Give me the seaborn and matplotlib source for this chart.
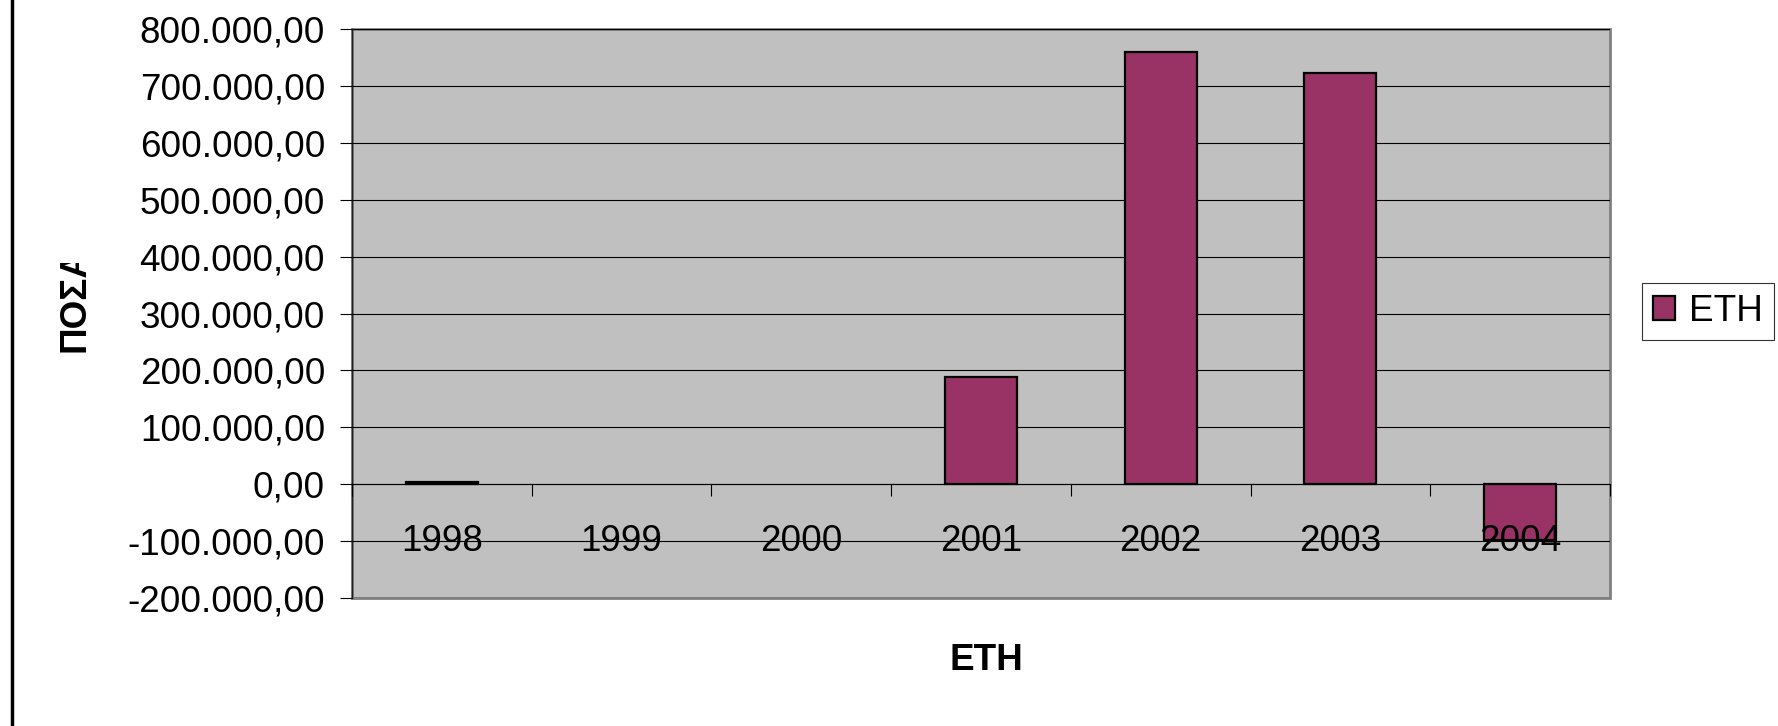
import numpy as np
import pandas as pd
import seaborn as sns
import matplotlib.pyplot as plt
from matplotlib.ticker import FuncFormatter, FixedLocator
from matplotlib.transforms import Bbox, TransformedBbox
from matplotlib.lines import Line2D

# values (1999 and 2000 have no bar)
years = ["1998", "1999", "2000", "2001", "2002", "2003", "2004"]
amounts = [3000, np.nan, np.nan, 189000, 759000, 723000, -98000]
series_name = "ETH"
y_ticks = [-200000, -100000, 0, 100000, 200000, 300000, 400000, 500000, 600000, 700000, 800000]

df = pd.DataFrame({"year": years, "amount": amounts, "series": series_name})

sns.set_theme(style="white")
plt.rcParams["font.family"] = ["Liberation Sans", "DejaVu Sans"]
plt.rcParams["text.color"] = "black"
plt.rcParams["axes.labelcolor"] = "black"
plt.rcParams["xtick.color"] = "black"
plt.rcParams["ytick.color"] = "black"

fs = 26.6
fig = plt.figure(figsize=(17.78, 7.26), dpi=100)
ax = fig.add_axes([352 / 1778, 1 - 598 / 726, (1610 - 352) / 1778, (598 - 29) / 726])

sns.barplot(data=df, x="year", y="amount", hue="series", palette=["#993366"],
            order=years, edgecolor="black", linewidth=1.6, width=0.4, saturation=1,
            errorbar=None, ax=ax)
ax.set_axisbelow(False)

ax.set_xlim(-0.5, len(years) - 0.5)
ax.set_ylim(y_ticks[0], y_ticks[-1])
ax.set_facecolor("#C0C0C0")
ax.patch.set_edgecolor("#808080")
ax.patch.set_linewidth(2)

# gridlines behind the bars
for y in y_ticks:
    ax.axhline(y, color="black", lw=0.8, zorder=0.5)

# y axis
ax.yaxis.set_major_locator(FixedLocator(y_ticks))
ax.yaxis.set_major_formatter(FuncFormatter(
    lambda v, p: f"{v:,.2f}".replace(",", "X").replace(".", ",").replace("X", ".")))
ax.tick_params(axis="y", which="major", left=True, length=8.6, width=0.8,
               color="black", pad=10.8, labelsize=fs, labelcolor="black")

# x axis crosses at zero, ticks between categories
ax.spines["bottom"].set_position(("data", 0))
ax.spines["bottom"].set_color("black")
ax.spines["bottom"].set_linewidth(0.8)
ax.spines["left"].set_color("#202020")
ax.spines["left"].set_linewidth(1.0)
ax.spines["top"].set_visible(False)
ax.spines["right"].set_visible(False)
ax.xaxis.set_minor_locator(FixedLocator([i + 0.5 for i in range(-1, len(years))]))
ax.tick_params(axis="x", which="minor", bottom=True, length=8.6, width=0.8,
               color="black", direction="out")
ax.tick_params(axis="x", which="major", bottom=True, length=0, pad=28.8,
               labelsize=fs, labelcolor="black")

ax.set_xlabel("")
ax.set_ylabel("")
fig.text(986 / 1778, 1 - 660 / 726, "ETH", ha="center", va="center",
         fontsize=fs, fontweight="bold", color="black")

ylab = fig.text(75 / 1778, 1 - 300 / 726, "ΠΟΣΑ", ha="center", va="center",
                rotation=90, fontsize=fs, fontweight="bold", color="black")
ylab.set_clip_box(TransformedBbox(Bbox.from_extents(0, 0, 0.2, 1 - 263 / 726), fig.transFigure))
ylab.set_clip_on(True)

# legend
sns.move_legend(ax, loc="upper left", bbox_to_anchor=(1642 / 1778, 1 - 283 / 726),
                bbox_transform=fig.transFigure, title=None, frameon=True,
                fontsize=fs, handlelength=0.6, handleheight=0.6,
                handletextpad=0.38, borderpad=0.3, borderaxespad=0, fancybox=False)
leg = ax.get_legend()
leg.get_frame().set_edgecolor("black")
leg.get_frame().set_linewidth(0.8)
for t in leg.get_texts():
    t.set_color("black")

# left border of chart area
fig.add_artist(Line2D([12 / 1778, 12 / 1778], [0, 1], color="black", lw=2.5,
                      transform=fig.transFigure))

fig.savefig("out.png", dpi=100)
